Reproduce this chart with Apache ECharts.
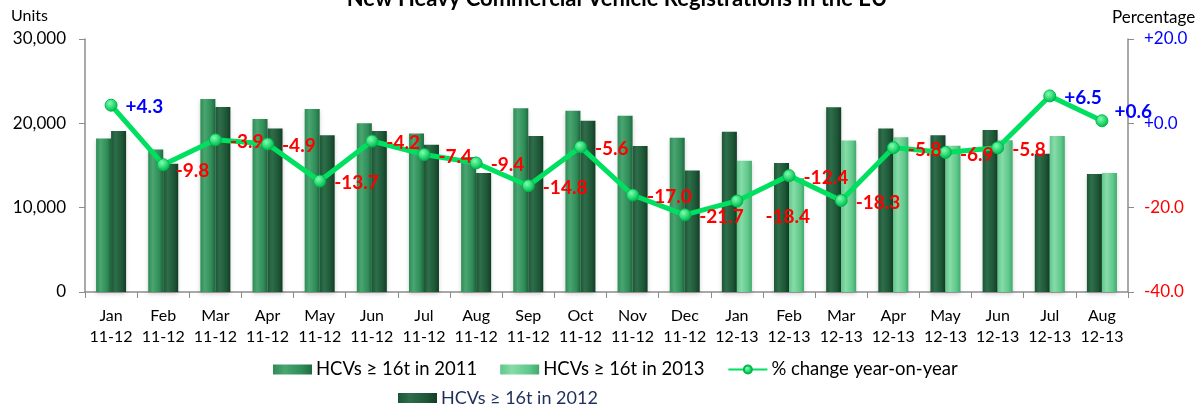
<!DOCTYPE html>
<html>
<head>
<meta charset="utf-8">
<script src="https://cdn.jsdelivr.net/npm/echarts@6/dist/echarts.min.js"></script>
<style>
  html, body { margin: 0; padding: 0; background: #fff; }
  #chart { width: 1204px; height: 405px; }
</style>
</head>
<body>
<div id="chart"></div>
<script>
// categories
const months = ["Jan", "Feb", "Mar", "Apr", "May", "Jun", "Jul", "Aug", "Sep", "Oct", "Nov", "Dec",
  "Jan", "Feb", "Mar", "Apr", "May", "Jun", "Jul", "Aug"];
const periods = ["11-12", "11-12", "11-12", "11-12", "11-12", "11-12", "11-12", "11-12", "11-12", "11-12", "11-12", "11-12",
  "12-13", "12-13", "12-13", "12-13", "12-13", "12-13", "12-13", "12-13"];

// units
const hcv2011 = [18200, 16900, 22900, 20500, 21700, 20000, 18800, 16000, 21800, 21500, 20900, 18300];
// 2012 bars: first 12 right of 2011, last 8 left of 2013
const hcv2012 = [19100, 15200, 21950, 19400, 18600, 19100, 17450, 14100, 18500, 20300, 17300, 14400,
  19000, 15300, 21900, 19400, 18600, 19200, 16400, 14000];
const hcv2013 = [15550, 13500, 17950, 18350, 17350, 18000, 18500, 14100];

// % change year-on-year
const pctChange = [4.3, -9.8, -3.9, -4.9, -13.7, -4.2, -7.4, -9.4, -14.8, -5.6, -17.0, -21.7,
  -18.4, -12.4, -18.3, -5.8, -6.9, -5.8, 6.5, 0.6];

const leftTicks = ["0", "10,000", "20,000", "30,000"];
const rightTicks = ["-40.0", "-20.0", "+0.0", "+20.0"];

const FONT = "Lato, 'Open Sans', sans-serif";
const chart = echarts.init(document.getElementById("chart"));

const gap = (n) => Array(n).fill("-");
const cyl = (dark, mid, light) => new echarts.graphic.LinearGradient(0, 0, 1, 0, [
  { offset: 0, color: mid },
  { offset: 0.3, color: light },
  { offset: 0.75, color: mid },
  { offset: 1, color: dark },
]);

const c2011 = cyl("#1f6b40", "#2f8b57", "#49a670");
const c2012 = cyl("#123d25", "#1d5535", "#2e6e4a");
const c2013 = cyl("#3fa86a", "#5fc78a", "#86dca8");

const barBase = {
  type: "bar",
  barWidth: 15,
  barGap: "0%",
  itemStyle: { shadowBlur: 4, shadowColor: "rgba(0,0,0,0.18)", shadowOffsetY: 2 },
};

// label offsets where the original places them off the plain right spot
const labelOffset = { 1: [-2, 6], 12: [14, 16], 19: [-2, -9] };

const legendText = { fontSize: 18.5, color: "#000", fontFamily: FONT, padding: [0, 0, 0, -1] };

chart.setOption({
  animation: false,
  textStyle: { fontFamily: FONT },
  title: {
    text: "New Heavy Commercial Vehicle Registrations in the EU",
    left: 612,
    textAlign: "center",
    top: -17,
    textStyle: { fontSize: 22, fontWeight: "bold", color: "#000", fontFamily: FONT },
  },
  graphic: [
    { type: "text", left: 11, top: 8, style: { text: "Units", fontSize: 16, fill: "#000", fontFamily: FONT } },
    { type: "text", left: 1112, top: 9, style: { text: "Percentage", fontSize: 17, fill: "#000", fontFamily: FONT } },
  ],
  legend: [
    {
      left: 273, top: 360, padding: 0, itemWidth: 39, itemHeight: 10, itemGap: 23,
      textStyle: legendText,
      data: [
        { name: "HCVs ≥ 16t in 2011", icon: "rect" },
        { name: "HCVs ≥ 16t in 2013", icon: "rect" },
        { name: "% change year-on-year" },
      ],
    },
    {
      left: 398, top: 389, padding: 0, itemWidth: 39, itemHeight: 10,
      textStyle: { ...legendText, fontSize: 18, color: "#1f2f5c" },
      data: [{ name: "HCVs ≥ 16t in 2012", icon: "rect" }],
    },
  ],
  grid: { left: 85, right: 76, top: 39, bottom: 113 },
  xAxis: {
    type: "category",
    data: months.map((m, i) => m + "\n" + periods[i]),
    axisLine: { lineStyle: { color: "#8c8c8c", width: 1.5 } },
    axisTick: { show: true, length: 6, lineStyle: { color: "#8c8c8c" } },
    axisLabel: { fontSize: 16, color: "#000", lineHeight: 21, margin: 13, interval: 0, fontFamily: FONT },
  },
  yAxis: [
    {
      type: "value", min: 0, max: 30000, interval: 10000,
      splitLine: { show: false },
      axisLine: { show: true, lineStyle: { color: "#8c8c8c", width: 1.5 } },
      axisTick: { show: true, length: 6, lineStyle: { color: "#8c8c8c" } },
      axisLabel: {
        fontSize: 17, color: "#000", margin: 19, fontFamily: FONT,
        formatter: (v) => leftTicks[v / 10000],
      },
    },
    {
      type: "value", min: -40, max: 20, interval: 20,
      splitLine: { show: false },
      axisLine: { show: true, lineStyle: { color: "#8c8c8c", width: 1.5 } },
      axisTick: { show: true, length: 6, lineStyle: { color: "#8c8c8c" } },
      axisLabel: {
        fontSize: 17, margin: 16, fontFamily: FONT,
        formatter: (v) => "{" + (v >= 0 ? "p" : "n") + "|" + rightTicks[(v + 40) / 20] + "}",
        rich: { p: { color: "#0000ff", fontSize: 17 }, n: { color: "#ff0000", fontSize: 17 } },
      },
    },
  ],
  series: [
    {
      ...barBase, name: "HCVs ≥ 16t in 2011", stack: "L",
      itemStyle: { ...barBase.itemStyle, color: c2011 },
      data: hcv2011.concat(gap(8)),
    },
    {
      ...barBase, name: "HCVs ≥ 16t in 2012", stack: "L",
      itemStyle: { ...barBase.itemStyle, color: c2012 },
      data: gap(12).concat(hcv2012.slice(12)),
    },
    {
      ...barBase, name: "HCVs ≥ 16t in 2012", stack: "R",
      itemStyle: { ...barBase.itemStyle, color: c2012 },
      data: hcv2012.slice(0, 12).concat(gap(8)),
    },
    {
      ...barBase, name: "HCVs ≥ 16t in 2013", stack: "R",
      itemStyle: { ...barBase.itemStyle, color: c2013 },
      data: gap(12).concat(hcv2013),
    },
    {
      name: "% change year-on-year",
      type: "line",
      yAxisIndex: 1,
      symbol: "circle",
      symbolSize: 12,
      z: 5,
      lineStyle: { color: "#00e060", width: 5 },
      itemStyle: {
        color: new echarts.graphic.RadialGradient(0.4, 0.35, 0.6, [
          { offset: 0, color: "#7dffb0" },
          { offset: 1, color: "#00c050" },
        ]),
        borderColor: "#00b84c", borderWidth: 1,
      },
      data: pctChange.map((v, i) => ({
        value: v,
        label: {
          show: true,
          position: "right",
          distance: 8,
          offset: labelOffset[i] || [0, 2],
          fontSize: 19,
          fontWeight: "bold",
          fontFamily: FONT,
          color: v >= 0 ? "#0000ff" : "#ff0000",
          formatter: (v >= 0 ? "+" : "") + v.toFixed(1),
        },
      })),
    },
  ],
});
</script>
</body>
</html>
